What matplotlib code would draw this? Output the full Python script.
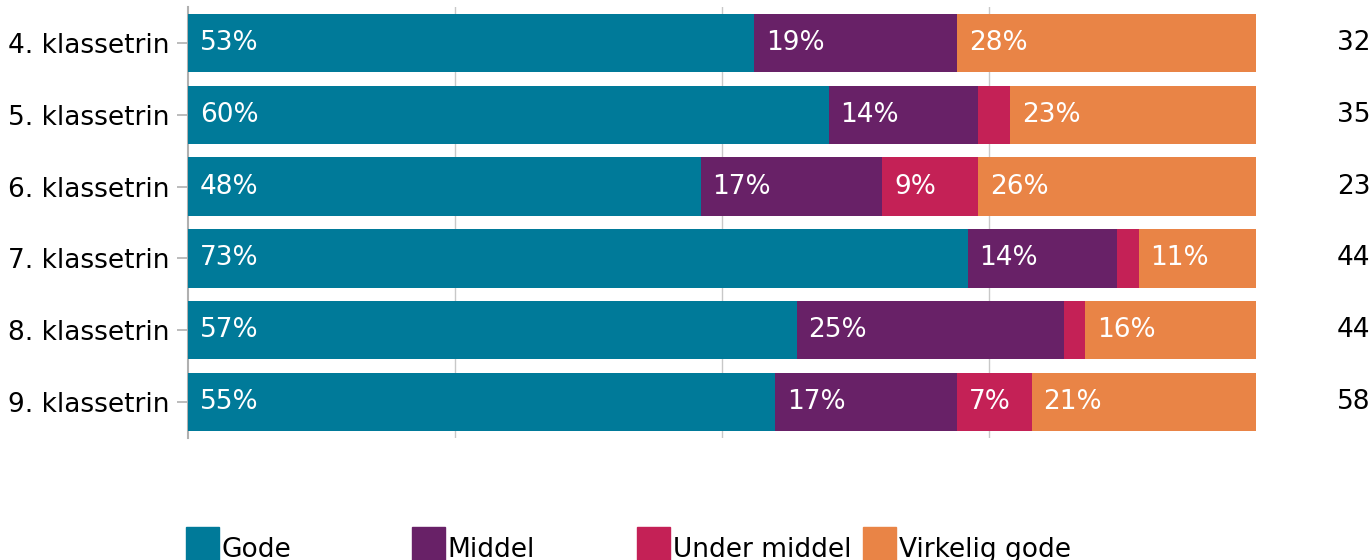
import matplotlib.pyplot as plt
import numpy as np
from matplotlib.patches import Rectangle

plt.rcParams['font.family'] = ['DejaVu Sans']

# grades and answer shares (%), one list per answer category
grades = ["4. klassetrin", "5. klassetrin", "6. klassetrin",
          "7. klassetrin", "8. klassetrin", "9. klassetrin"]
gode = [53, 60, 48, 73, 57, 55]
middel = [19, 14, 17, 14, 25, 17]
under_middel = [0, 3, 9, 2, 2, 7]
virkelig_gode = [28, 23, 26, 11, 16, 21]
n_answers = [32, 35, 23, 44, 44, 58]

series_names = ["Gode", "Middel", "Under middel", "Virkelig gode"]
colors = ["#007A99", "#682167", "#C42156", "#E98446"]

fig = plt.figure(figsize=(13.7, 5.6), dpi=100)
ax = fig.add_axes([188 / 1370, 1 - 438 / 560, 1068 / 1370, 431 / 560])

y = np.arange(len(grades))
left = np.zeros(len(grades))
fs = 19
for vals, col in zip([gode, middel, under_middel, virkelig_gode], colors):
    vals = np.array(vals, dtype=float)
    ax.barh(y, vals, left=left, height=0.81, color=col, zorder=3)
    for yi, (l, v) in enumerate(zip(left, vals)):
        if v >= 5:
            ax.text(l + 1.1, yi, f"{v:.0f}%", color="white", fontsize=fs,
                    va="center", ha="left", zorder=4)
    left += vals

ax.set_xlim(0, 100)
ax.set_ylim(len(grades) - 0.5, -0.5)
ax.set_yticks(y)
ax.set_yticklabels(grades, fontsize=fs)
ax.set_xticks([25, 50, 75])
ax.xaxis.grid(True, color="#C8C8C8", linewidth=1, zorder=0)
ax.tick_params(axis="x", length=0, labelbottom=False)
ax.tick_params(axis="y", length=8, width=1.2, color="#B0B0B0", pad=5)
for s in ["top", "right", "bottom"]:
    ax.spines[s].set_visible(False)
ax.spines["left"].set_color("#B0B0B0")
ax.spines["left"].set_linewidth(1.5)

# number of answers beside each bar
for yi, n in enumerate(n_answers):
    ax.text(1.0758, yi, str(n), transform=ax.get_yaxis_transform(),
            fontsize=fs, va="center", ha="left", clip_on=False)

# legend row along the bottom
for i, (name, col) in enumerate(zip(series_names, colors)):
    x0 = (186 + i * 225.7) / 1370
    fig.patches.append(Rectangle((x0, 0), 33 / 1370, 33 / 560,
                                 transform=fig.transFigure, color=col))
    fig.text(x0 + 36 / 1370, 10 / 560, name, fontsize=fs,
             va="center", ha="left")

fig.savefig("out.png", dpi=100)
